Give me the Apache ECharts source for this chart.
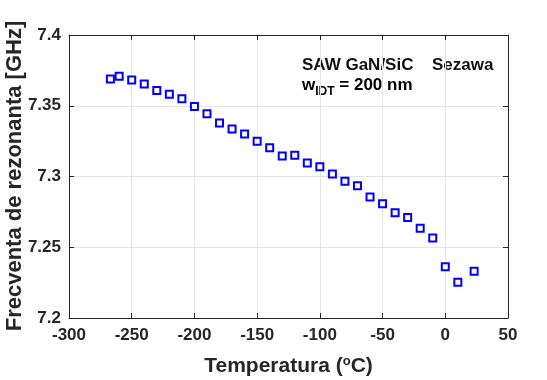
<!DOCTYPE html>
<html><head><meta charset="utf-8">
<script src="https://cdn.jsdelivr.net/npm/echarts@6/dist/echarts.min.js"></script>
<style>html,body{margin:0;padding:0;background:#fff}#c{width:547px;height:380px}</style>
</head><body><div id="c"></div>
<script>
var temperatures = [-267, -260, -250, -240, -230, -220, -210, -200, -190, -180, -170, -160, -150, -140, -130, -120, -110, -100, -90, -80, -70, -60, -50, -40, -30, -20, -10, 0, 10, 23];
var frequencies = [7.3689, 7.3708, 7.3682, 7.3654, 7.3607, 7.3581, 7.3550, 7.3494, 7.3444, 7.3378, 7.3336, 7.3300, 7.3249, 7.3204, 7.3145, 7.3150, 7.3095, 7.3069, 7.3018, 7.2966, 7.2935, 7.2855, 7.2808, 7.2744, 7.2711, 7.2634, 7.2565, 7.2363, 7.2252, 7.2330];
var xTicks = [-300, -250, -200, -150, -100, -50, 0, 50];
var yTicks = [7.2, 7.25, 7.3, 7.35, 7.4];
var yName = 'Frecventa de rezonanta [GHz]';

var F = 'Liberation Sans, Arial, sans-serif';
var axisCol = '#262626';
var chart = echarts.init(document.getElementById('c'));
var pts = temperatures.map(function (t, i) { return [t, frequencies[i]]; });
function common() {
  return {
    axisLine: { show: true, onZero: false, lineStyle: { color: axisCol, width: 1 } },
    axisTick: { show: true, inside: true, length: 5, lineStyle: { color: axisCol } }
  };
}
chart.setOption({
  animation: false,
  grid: { left: 69, right: 39, top: 35, bottom: 62, containLabel: false, outerBoundsMode: 'none' },
  xAxis: [
    Object.assign({
      type: 'value', min: -300, max: 50, interval: 50,
      name: '{a|Temperatura (}{s|o}{a|C)}', nameLocation: 'middle', nameGap: 37,
      nameTextStyle: { rich: {
        a: { fontFamily: F, fontWeight: 'bold', fontSize: 21, color: axisCol },
        s: { fontFamily: F, fontWeight: 'bold', fontSize: 13, color: axisCol, verticalAlign: 'top', padding: [0, 0, 10, 0] }
      } },
      axisLabel: { fontFamily: F, fontWeight: 'bold', fontSize: 17, color: axisCol, margin: 9,
        formatter: function (v) { return xTicks.indexOf(v) >= 0 ? String(v) : ''; } },
      splitLine: { show: true, lineStyle: { color: '#e4e4e4', width: 1 } }
    }, common()),
    Object.assign({ type: 'value', position: 'top', min: -300, max: 50, interval: 50,
      axisLabel: { show: false }, splitLine: { show: false } }, common())
  ],
  yAxis: [
    Object.assign({
      type: 'value', min: 7.2, max: 7.4, interval: 0.05,
      axisLabel: { fontFamily: F, fontWeight: 'bold', fontSize: 17, color: axisCol, margin: 8,
        formatter: function (v) {
          var r = Math.round(v * 100) / 100;
          return yTicks.indexOf(r) >= 0 ? String(r) : '';
        } },
      splitLine: { show: true, lineStyle: { color: '#e4e4e4', width: 1 } }
    }, common()),
    Object.assign({ type: 'value', position: 'right', min: 7.2, max: 7.4, interval: 0.05,
      axisLabel: { show: false }, splitLine: { show: false } }, common())
  ],
  graphic: [
    { type: 'text', x: 15, y: 176, rotation: Math.PI / 2,
      style: { text: yName, font: 'bold 22px ' + F, fill: axisCol, align: 'center', verticalAlign: 'middle' } },
    { type: 'text', left: 302, top: 57, style: { text: 'SAW GaN/SiC', font: 'bold 17px ' + F, fill: '#111' } },
    { type: 'text', left: 432, top: 57, style: { text: 'Sezawa', font: 'bold 17px ' + F, fill: '#111' } },
    { type: 'text', left: 302, top: 77, style: {
      text: '{a|w}{b|IDT}{a| = 200 nm}',
      rich: {
        a: { fontFamily: F, fontWeight: 'bold', fontSize: 17, color: '#111' },
        b: { fontFamily: F, fontWeight: 'bold', fontSize: 12, color: '#111', verticalAlign: 'bottom', padding: [12, 0, 0, 0] }
      } } }
  ],
  series: [{
    type: 'scatter', data: pts, symbol: 'rect', symbolSize: 7,
    itemStyle: { color: '#fff', borderColor: '#0000ff', borderWidth: 2, opacity: 1 }
  }]
});
</script></body></html>
